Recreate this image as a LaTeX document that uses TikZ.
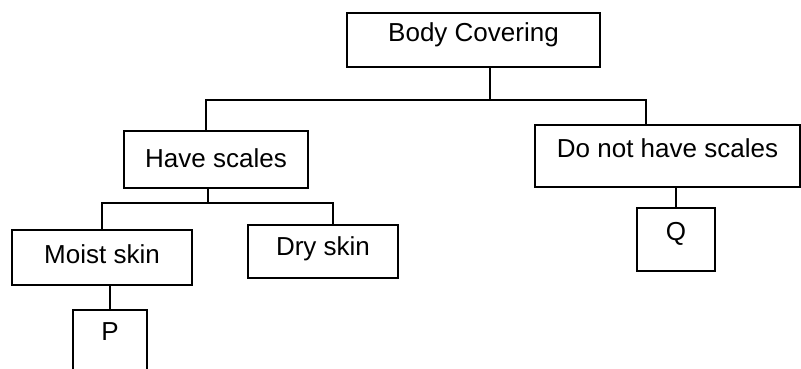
\documentclass[tikz,border=0pt]{standalone}
\usepackage{fontspec}
\setmainfont{Liberation Sans}

\begin{document}
\begin{tikzpicture}[x=1pt,y=-1pt,
  box/.style={draw,line width=2.2pt,inner sep=0pt,font=\fontsize{26}{30}\selectfont},
  conn/.style={line width=2pt}]
  \useasboundingbox (0,0) rectangle (801,369);
  \node[box,minimum width=253pt,text height=29pt,text depth=25pt] (body) at (473.5,40) {Body Covering};
  \node[box,minimum width=184pt,text height=36pt,text depth=21pt] (scales) at (216,159.5) {Have scales};
  \node[box,minimum width=265pt,text height=32pt,text depth=30pt] (noscales) at (667.5,156) {Do not have scales};
  \node[box,minimum width=180pt,text height=33pt,text depth=22pt] (moist) at (102,257.5) {Moist skin};
  \node[box,minimum width=150pt,text height=30pt,text depth=23pt] (dry) at (323,251.5) {Dry skin};
  \node[box,minimum width=74pt,text height=30pt,text depth=32pt] (p) at (110,341) {P};
  \node[box,minimum width=78pt,text height=32pt,text depth=31pt] (q) at (676,239.5) {Q};
  \coordinate (j1) at (490,100);
  \coordinate (j2) at (208,203);
  \draw[conn] (body.south -| j1) -- (j1);
  \draw[conn] ([xshift=-10pt]scales.north) |- (j1) -| ([xshift=-22pt]noscales.north);
  \draw[conn] (scales.south -| j2) -- (j2);
  \draw[conn] (moist.north) |- (j2) -| ([xshift=10pt]dry.north);
  \draw[conn] (p.north) -- (p.north |- moist.south);
  \draw[conn] (q.north) -- (q.north |- noscales.south);
\end{tikzpicture}
\end{document}
